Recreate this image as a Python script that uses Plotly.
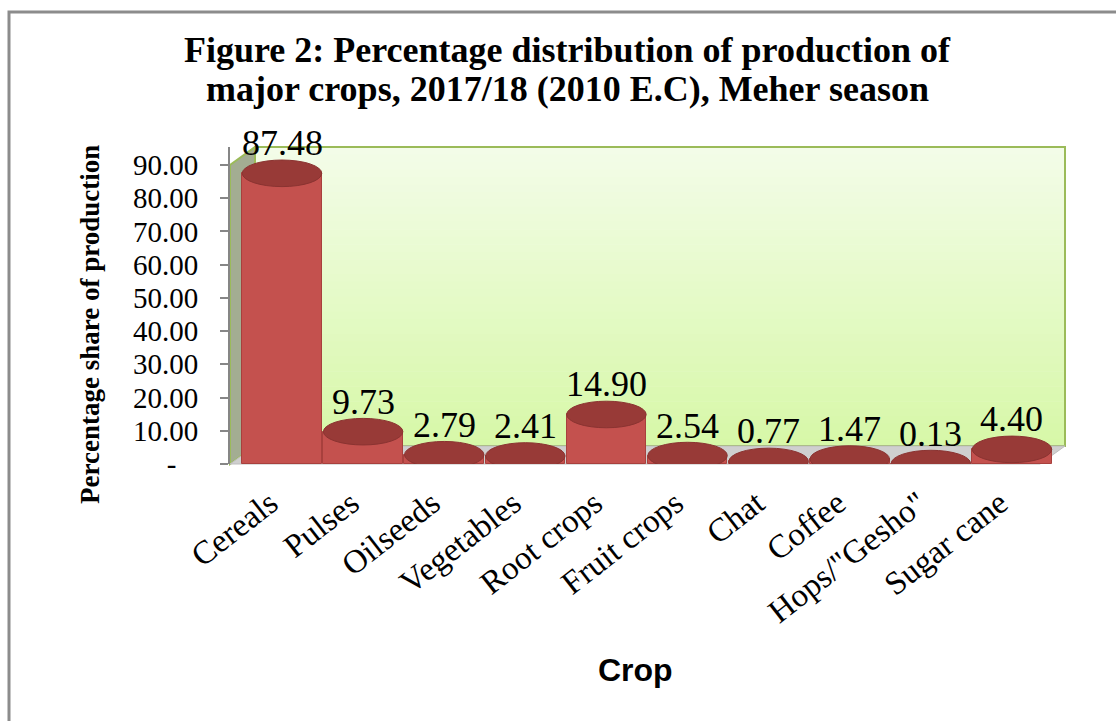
import plotly.graph_objects as go

# ---- data ----
categories = ["Cereals", "Pulses", "Oilseeds", "Vegetables", "Root crops",
              "Fruit crops", "Chat", "Coffee", "Hops/\"Gesho\"", "Sugar cane"]
shares = [87.48, 9.73, 2.79, 2.41, 14.90, 2.54, 0.77, 1.47, 0.13, 4.40]
y_tickvals = [0, 10, 20, 30, 40, 50, 60, 70, 80, 90]
y_ticktext = ["-\u00a0\u00a0\u00a0", "10.00", "20.00", "30.00", "40.00",
              "50.00", "60.00", "70.00", "80.00", "90.00"]
title_lines = ["Figure 2: Percentage distribution of production of",
               "major crops, 2017/18 (2010 E.C), Meher season"]

W, H = 1116, 721
L, R, T, B = 230, 1065, 147, 464  # plot area in pixels
YMAX = 95.4

def px(x):
    return (x - L) / (R - L)

def py(y):
    return (B - y) / (B - T)

fig = go.Figure()
fig.add_trace(go.Bar(
    x=list(range(len(categories))), y=shares, width=0.98,
    marker=dict(color="#C4514E", line=dict(color="#A8403D", width=1)),
    hoverinfo="x+y", showlegend=False,
))

shapes = []
# outer border (left/top visible)
shapes.append(dict(type="rect", xref="paper", yref="paper",
                   x0=px(9), x1=px(1140), y0=py(12), y1=py(760),
                   line=dict(color="#8C8C8C", width=3), fillcolor="rgba(0,0,0,0)", layer="below"))
# gradient back wall
n = 40
wx0, wx1, wy0, wy1 = 255, 1065, 147, 446
c0 = (243, 252, 232)
c1 = (215, 248, 168)
for i in range(n):
    t = i / (n - 1)
    col = tuple(round(c0[k] + (c1[k] - c0[k]) * t) for k in range(3))
    ya = wy0 + (wy1 - wy0) * i / n
    yb = wy0 + (wy1 - wy0) * (i + 1) / n + 0.6
    shapes.append(dict(type="rect", xref="paper", yref="paper",
                       x0=px(wx0), x1=px(wx1), y0=py(ya), y1=py(yb),
                       line=dict(width=0), fillcolor="rgb(%d,%d,%d)" % col, layer="below"))
shapes.append(dict(type="rect", xref="paper", yref="paper",
                   x0=px(wx0), x1=px(wx1), y0=py(wy0), y1=py(wy1),
                   line=dict(color="#9BBB59", width=2), fillcolor="rgba(0,0,0,0)", layer="below"))
# side wall
shapes.append(dict(type="path", xref="paper", yref="paper",
                   path="M %f %f L %f %f L %f %f L %f %f Z" % (
                       px(230), py(464), px(230), py(165), px(255), py(147), px(255), py(446)),
                   fillcolor="#A3AD92", line=dict(color="#9BBB59", width=2), layer="below"))
# floor
shapes.append(dict(type="path", xref="paper", yref="paper",
                   path="M %f %f L %f %f L %f %f L %f %f Z" % (
                       px(230), py(464), px(1040), py(464), px(1065), py(446), px(255), py(446)),
                   fillcolor="#CFCFCF", line=dict(color="#BDBDBD", width=1), layer="below"))
# cylinder top caps, placed from data
cap = 4.0
for i, v in enumerate(shares):
    shapes.append(dict(type="circle", xref="x", yref="y",
                       x0=i - 0.49, x1=i + 0.49, y0=v - cap, y1=v + cap,
                       fillcolor="#983A37", line=dict(color="#8A3331", width=1), layer="above"))

annotations = []
for i, v in enumerate(shares):
    annotations.append(dict(x=i, y=v, xref="x", yref="y", text=f"{v:.2f}",
                            showarrow=False, yanchor="bottom", yshift=8,
                            font=dict(family="Liberation Serif", size=36, color="#000000")))
annotations.append(dict(x=px(90), y=py(325), xref="paper", yref="paper",
                        text="<b>Percentage share of production</b>", textangle=-90,
                        showarrow=False, xanchor="center", yanchor="middle",
                        font=dict(family="Liberation Serif", size=27, color="#000000")))
annotations.append(dict(x=px(635), y=py(670), xref="paper", yref="paper",
                        text="<b>Crop</b>", showarrow=False, xanchor="center", yanchor="middle",
                        font=dict(family="Liberation Sans", size=32, color="#000000")))
for line_txt, ly in zip(title_lines, [50, 89]):
    annotations.append(dict(x=px(567), y=py(ly), xref="paper", yref="paper",
                            text="<b>" + line_txt + "</b>", showarrow=False,
                            xanchor="center", yanchor="middle",
                            font=dict(family="Liberation Serif", size=36, color="#000000")))

fig.update_layout(
    width=W, height=H,
    margin=dict(l=L, r=W - R, t=T, b=H - B, pad=0),
    paper_bgcolor="white", plot_bgcolor="rgba(0,0,0,0)",
    shapes=shapes, annotations=annotations,
    bargap=0,
)
fig.update_xaxes(range=[-(282 - L) / 81.1, 9 + (R - 1012) / 81.1],
                 tickvals=list(range(len(categories))), ticktext=categories,
                 tickangle=-38, showgrid=False, zeroline=False, showline=False,
                 ticks="outside", ticklen=6, tickcolor="rgba(0,0,0,0)",
                 ticklabelshift=-12,
                 tickfont=dict(family="Liberation Serif", size=33, color="#000000"))
fig.update_yaxes(range=[0, YMAX], tickvals=y_tickvals, ticktext=y_ticktext,
                 showgrid=False, zeroline=False, showline=True, linecolor="#868686", linewidth=2,
                 ticks="outside", ticklen=8, tickcolor="#868686", tickwidth=2,
                 ticklabelstandoff=16,
                 tickfont=dict(family="Liberation Serif", size=29, color="#000000"))

fig.write_html("out.html", config={"displayModeBar": False},
               post_script="document.body.style.margin='0';document.body.style.overflow='hidden';")
